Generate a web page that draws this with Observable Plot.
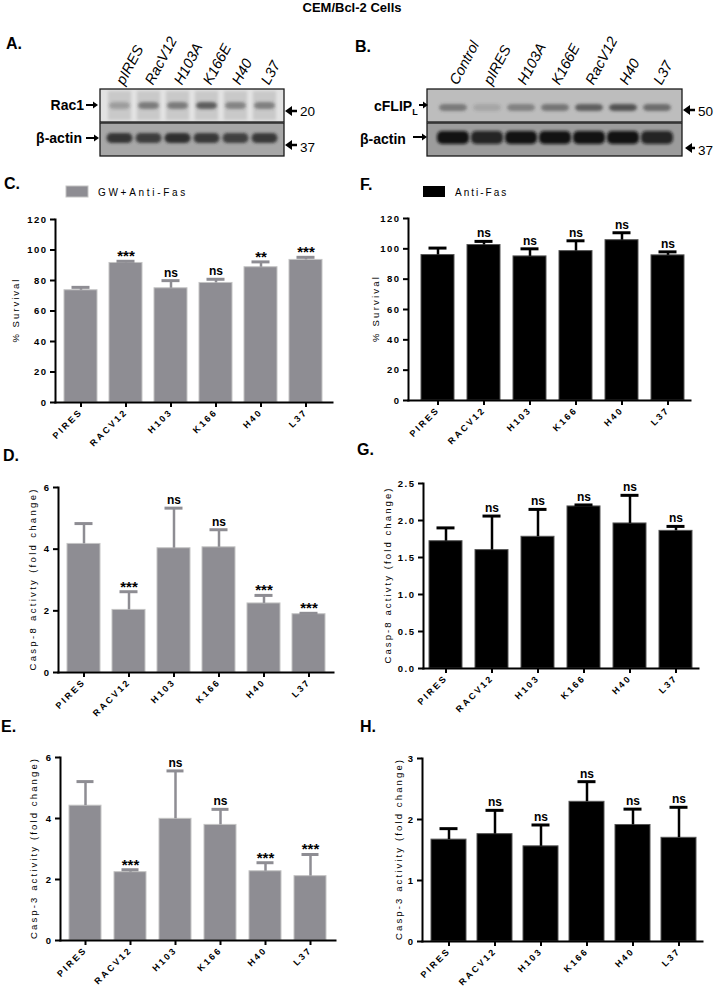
<!DOCTYPE html>
<html><head><meta charset="utf-8">
<script src="https://cdn.jsdelivr.net/npm/d3@7"></script>
<script src="https://cdn.jsdelivr.net/npm/@observablehq/plot@0.6"></script>
<style>
html,body{margin:0;padding:0;background:#fff;}
#fig{position:relative;width:715px;height:994px;overflow:hidden;background:#fff;font-family:Arial,"Liberation Sans",sans-serif;}
</style></head><body><div id="fig"></div>
<script>
const FONT = 'Arial, "Liberation Sans", sans-serif';

// ---------- data ----------
const categories = ["PIRES", "RACV12", "H103", "K166", "H40", "L37"];

// C. % survival, GW + Anti-Fas
const survivalGW = [73.6, 91.5, 74.9, 78.4, 88.7, 93.5];
const survivalGWErr = [1.9, 1.1, 5.0, 2.4, 3.5, 1.7];
const survivalGWSig = ["", "***", "ns", "ns", "**", "***"];
// F. % survival, Anti-Fas
const survivalAF = [95.9, 102.5, 95.0, 98.5, 105.7, 95.7];
const survivalAFErr = [4.6, 2.4, 5.0, 6.8, 4.9, 2.3];
const survivalAFSig = ["", "ns", "ns", "ns", "ns", "ns"];
// D. Casp-8, GW + Anti-Fas
const casp8GW = [4.17, 2.03, 4.03, 4.06, 2.24, 1.89];
const casp8GWErr = [0.66, 0.59, 1.30, 0.57, 0.26, 0.03];
const casp8GWSig = ["", "***", "ns", "ns", "***", "***"];
// G. Casp-8, Anti-Fas
const casp8AF = [1.72, 1.60, 1.78, 2.19, 1.96, 1.86];
const casp8AFErr = [0.18, 0.46, 0.37, 0.02, 0.38, 0.06];
const casp8AFSig = ["", "ns", "ns", "ns", "ns", "ns"];
// E. Casp-3, GW + Anti-Fas
const casp3GW = [4.42, 2.24, 3.99, 3.79, 2.27, 2.11];
const casp3GWErr = [0.79, 0.08, 1.57, 0.51, 0.28, 0.71];
const casp3GWSig = ["", "***", "ns", "ns", "***", "***"];
// H. Casp-3, Anti-Fas
const casp3AF = [1.67, 1.76, 1.56, 2.29, 1.91, 1.70];
const casp3AFErr = [0.18, 0.39, 0.35, 0.33, 0.26, 0.50];
const casp3AFSig = ["", "ns", "ns", "ns", "ns", "ns"];

const survivalTicks = [0, 20, 40, 60, 80, 100, 120];
const casp8GWTicks = [0, 2, 4, 6];
const casp8AFTicks = [0, 0.5, 1.0, 1.5, 2.0, 2.5];
const casp3GWTicks = [0, 2, 4, 6];
const casp3AFTicks = [0, 1, 2, 3];

// Western blots (relative band intensities)
const lanesA = ["pIRES", "RacV12", "H103A", "K166E", "H40", "L37"];
const rowsA = ["Rac1", "β-actin"];
const rac1Band = [0.3, 0.55, 0.55, 0.75, 0.48, 0.5];
const actinBandA = [0.88, 0.82, 0.95, 0.85, 0.8, 0.85];
const lanesB = ["Control", "pIRES", "H103A", "K166E", "RacV12", "H40", "L37"];
const rowsB = ["cFLIP", "β-actin"];
const cflipBand = [0.5, 0.18, 0.45, 0.55, 0.72, 0.8, 0.62];
const actinBandB = [0.97, 0.85, 0.97, 0.97, 0.97, 0.97, 0.85];

const GREY = "#8e8d93";
const fig = document.getElementById("fig");

function place(svg, left, top) {
  svg.style.position = "absolute";
  svg.style.left = left + "px";
  svg.style.top = top + "px";
  svg.style.maxWidth = "none";
  fig.appendChild(svg);
}

function barPanel(cfg) {
  const data = categories.map((c, i) => ({cat: c, v: cfg.values[i], hi: cfg.values[i] + cfg.errors[i], sig: cfg.sig[i]}));
  const mT = cfg.yTop - cfg.top;
  const height = mT + (cfg.y0 - cfg.yTop) + cfg.mB;
  const width = cfg.xEnd - cfg.left + 5;
  const bw = cfg.bw;
  const step = (cfg.lastC - cfg.firstC) / 5;
  const capInset = (bw - 18) / 2;
  const svg = Plot.plot({
    width, height,
    marginTop: mT, marginBottom: cfg.mB, marginLeft: cfg.axisX - cfg.left, marginRight: 5,
    style: {fontFamily: FONT, background: "transparent", overflow: "visible", color: "#000"},
    x: {type: "band", domain: categories, range: [cfg.firstC - cfg.left - bw / 2, cfg.lastC - cfg.left + bw / 2], paddingInner: 1 - bw / step, paddingOuter: 0, align: 0.5},
    y: {domain: cfg.domain},
    marks: [
      Plot.barY(data, {x: "cat", y: "v", fill: cfg.color, stroke: cfg.edge, strokeWidth: 1}),
      Plot.ruleX(data, {x: "cat", y1: "v", y2: "hi", stroke: cfg.color, strokeWidth: 2.5}),
      Plot.tickY(data, {x: "cat", y: "hi", stroke: cfg.color, strokeWidth: 3, insetLeft: capInset, insetRight: capInset}),
      Plot.text(data.filter(d => !d.sig.includes("*")), {x: "cat", y: "hi", text: "sig", dy: -4, lineAnchor: "bottom", fontWeight: "bold", fontSize: 12, fill: "#000"}),
      Plot.text(data.filter(d => d.sig.includes("*")), {x: "cat", y: "hi", text: "sig", dy: 0, lineAnchor: "bottom", fontWeight: "bold", fontSize: 15, fill: "#000"}),
      Plot.frame({anchor: "left", strokeWidth: 2, stroke: "#000"}),
      Plot.frame({anchor: "bottom", strokeWidth: 2, stroke: "#000"}),
      Plot.axisY({ticks: cfg.ticks, tickFormat: cfg.fmt, tickSize: 5, tickPadding: 3, strokeWidth: 2, fontWeight: "bold", fontSize: 9.5, label: null}),
      Plot.axisX({tickSize: 5, tickPadding: 3, tickRotate: -45, strokeWidth: 2, fontWeight: "bold", fontSize: 9, label: null}),
      Plot.text([cfg.ylabel], {frameAnchor: "left", rotate: -90, dx: cfg.labelDx, fontSize: 9.5, fill: "#000", ariaDescription: "ylabel"})
    ]
  });
  const s = d3.select(svg);
  s.selectAll('g[aria-label="y-axis tick label"] text').style("letter-spacing", "1.5px");
  s.selectAll('g[aria-label="x-axis tick label"] text').style("letter-spacing", "2.2px");
  s.selectAll('g[aria-description="ylabel"] text')
    .attr("text-anchor", "start").attr("x", -cfg.labelLen / 2)
    .attr("textLength", cfg.labelLen).attr("lengthAdjust", "spacing");
  place(svg, cfg.left, cfg.top);
}

let blurId = 0;
function blotPanel(cfg) {
  const topBands = cfg.lanes.map((lane, i) => ({lane, row: cfg.rows[0], v: cfg.topVals[i]}));
  const botBands = cfg.lanes.map((lane, i) => ({lane, row: cfg.rows[1], v: cfg.botVals[i]}));
  const marks = [
    Plot.cell([cfg.rows[0]], {y: d => d, fill: cfg.bg[0]}),
    Plot.cell([cfg.rows[1]], {y: d => d, fill: cfg.bg[1]})
  ];
  if (cfg.smear) marks.push(Plot.cell(topBands, {x: "lane", y: "row", fill: cfg.smear, insetLeft: 3, insetRight: 3, insetTop: 2, insetBottom: 2, ariaDescription: "blur"}));
  marks.push(
    Plot.cell(topBands, {x: "lane", y: "row", fill: cfg.bandColor[0], fillOpacity: "v", insetLeft: cfg.sideInset[0], insetRight: cfg.sideInset[0], insetTop: cfg.inset[0][0], insetBottom: cfg.inset[0][1], rx: 5, ariaDescription: "blur"}),
    Plot.cell(botBands, {x: "lane", y: "row", fill: cfg.bandColor[1], fillOpacity: "v", insetLeft: cfg.sideInset[1], insetRight: cfg.sideInset[1], insetTop: cfg.inset[1][0], insetBottom: cfg.inset[1][1], rx: 5, ariaDescription: "blur"}),
    Plot.cell(cfg.rows, {y: d => d, fill: "none", stroke: "#1a1a1a", strokeWidth: 1.3}),
    Plot.axisX({anchor: "top", tickSize: 0, tickPadding: 5, tickRotate: -62, fontSize: 14.5, fontStyle: "italic", label: null})
  );
  const svg = Plot.plot({
    width: cfg.width, height: cfg.height,
    marginLeft: cfg.box[0] - cfg.left, marginRight: cfg.left + cfg.width - cfg.box[1],
    marginTop: cfg.box[2], marginBottom: cfg.height - cfg.box[3],
    style: {fontFamily: FONT, background: "transparent", overflow: "visible", color: "#000"},
    x: {type: "band", domain: cfg.lanes, paddingInner: 0, paddingOuter: cfg.po},
    y: {type: "band", domain: cfg.rows, paddingInner: 0.03, paddingOuter: 0, axis: null},
    marks
  });
  const s = d3.select(svg);
  const id = "blur" + (blurId++);
  s.insert("defs", ":first-child").append("filter").attr("id", id)
    .attr("x", "-10%").attr("y", "-50%").attr("width", "120%").attr("height", "200%")
    .append("feGaussianBlur").attr("stdDeviation", 1.8);
  s.selectAll('g[aria-description="blur"]').attr("filter", `url(#${id})`);
  place(svg, cfg.left, 0);
}

// ---------- blots ----------
blotPanel({lanes: lanesA, rows: rowsA, topVals: rac1Band, botVals: actinBandA,
  left: 0, width: 300, height: 160, box: [100, 284, 88, 156], po: 0.1,
  bg: ["#e2e2e2", "#a7a7a7"], smear: "#c9c9c9", bandColor: ["#3a3a3a", "#262626"],
  sideInset: [4, 1.5], inset: [[13, 13], [10, 13]]});
blotPanel({lanes: lanesB, rows: rowsB, topVals: cflipBand, botVals: actinBandB,
  left: 340, width: 350, height: 160, box: [427, 682, 88, 156], po: 0.23,
  bg: ["#bdbdbd", "#9c9c9c"], smear: null, bandColor: ["#3a3a3a", "#111"],
  sideInset: [3, 1], inset: [[15, 11], [8, 12]]});

// ---------- bar panels ----------
barPanel({values: survivalGW, errors: survivalGWErr, sig: survivalGWSig, color: GREY, edge: "#c4c4c4",
  left: 0, top: 189, axisX: 55, yTop: 219, y0: 402, xEnd: 332, mB: 48, firstC: 79, lastC: 307, bw: 33,
  domain: [0, 120], ticks: survivalTicks, fmt: d => d, ylabel: "% Survival", labelDx: -40, labelLen: 63});
barPanel({values: survivalAF, errors: survivalAFErr, sig: survivalAFSig, color: "#000", edge: "#555",
  left: 350, top: 188, axisX: 408, yTop: 218, y0: 400, xEnd: 690, mB: 48, firstC: 437, lastC: 667, bw: 33,
  domain: [0, 120], ticks: survivalTicks, fmt: d => d, ylabel: "% Survival", labelDx: -33, labelLen: 65});
barPanel({values: casp8GW, errors: casp8GWErr, sig: casp8GWSig, color: GREY, edge: "#c4c4c4",
  left: 0, top: 457, axisX: 58, yTop: 487, y0: 672, xEnd: 333, mB: 48, firstC: 81.7, lastC: 310, bw: 33,
  domain: [0, 6], ticks: casp8GWTicks, fmt: d => d, ylabel: "Casp-8 activty (fold change)", labelDx: -26, labelLen: 181});
barPanel({values: casp8AF, errors: casp8AFErr, sig: casp8AFSig, color: "#000", edge: "#555",
  left: 350, top: 453, axisX: 423, yTop: 483, y0: 668, xEnd: 698, mB: 48, firstC: 445.5, lastC: 675.5, bw: 33,
  domain: [0, 2.5], ticks: casp8AFTicks, fmt: d3.format(".1f"), ylabel: "Casp-8 activty (fold change)", labelDx: -36, labelLen: 175});
barPanel({values: casp3GW, errors: casp3GWErr, sig: casp3GWSig, color: GREY, edge: "#c4c4c4",
  left: 0, top: 727, axisX: 60, yTop: 757, y0: 940, xEnd: 335, mB: 54, firstC: 83, lastC: 312.5, bw: 33,
  domain: [0, 6], ticks: casp3GWTicks, fmt: d => d, ylabel: "Casp-3 activity (fold change)", labelDx: -27, labelLen: 180});
barPanel({values: casp3AF, errors: casp3AFErr, sig: casp3AFSig, color: "#000", edge: "#555",
  left: 350, top: 728, axisX: 422, yTop: 758, y0: 941, xEnd: 702, mB: 53, firstC: 448, lastC: 679, bw: 35,
  domain: [0, 3], ticks: casp3AFTicks, fmt: d => d, ylabel: "Casp-3 activity (fold change)", labelDx: -24, labelLen: 180});

// ---------- overlay: titles, panel letters, blot labels, legends ----------
const ov = d3.select(fig).append("svg").attr("width", 715).attr("height", 994)
  .style("position", "absolute").style("left", "0px").style("top", "0px")
  .style("pointer-events", "none").style("font-family", FONT);

ov.append("text").attr("x", 352).attr("y", 12).attr("text-anchor", "middle")
  .attr("font-weight", "bold").attr("font-size", 13).text("CEM/Bcl-2 Cells");

const letters = [["A.", 6, 49], ["B.", 355, 52], ["C.", 4, 189], ["F.", 360, 190],
  ["D.", 3, 461], ["G.", 357, 455], ["E.", 1, 732], ["H.", 360, 732]];
letters.forEach(([t, x, y]) => ov.append("text").attr("x", x).attr("y", y)
  .attr("font-weight", "bold").attr("font-size", 16).text(t));

function arrowR(x1, x2, y, hl, hh, sw) {
  ov.append("line").attr("x1", x1).attr("x2", x2 - hl + 1).attr("y1", y).attr("y2", y)
    .attr("stroke", "#000").attr("stroke-width", sw);
  ov.append("path").attr("d", `M${x2},${y}L${x2 - hl},${y - hh}L${x2 - hl},${y + hh}Z`).attr("fill", "#000");
}
function arrowL(x1, x2, y, hl, hh, sw) { // head at x1
  ov.append("line").attr("x1", x1 + hl - 1).attr("x2", x2).attr("y1", y).attr("y2", y)
    .attr("stroke", "#000").attr("stroke-width", sw);
  ov.append("path").attr("d", `M${x1},${y}L${x1 + hl},${y - hh}L${x1 + hl},${y + hh}Z`).attr("fill", "#000");
}
function label(t, x, y, opts = {}) {
  return ov.append("text").attr("x", x).attr("y", y)
    .attr("text-anchor", opts.anchor || "start")
    .attr("font-weight", opts.weight || "normal")
    .attr("font-size", opts.size || 13.5).text(t);
}
// Blot A
label("Rac1", 84, 110, {anchor: "end", weight: "bold", size: 14});
arrowR(86, 98, 105, 5, 3.5, 2);
label("β-actin", 82, 143, {anchor: "end", weight: "bold", size: 14});
arrowR(86, 99, 138, 5, 3.5, 2);
arrowL(285, 297, 111, 7, 5, 2.5);
label("20", 300, 116);
arrowL(285, 297, 145, 7, 5, 2.5);
label("37", 300, 152);
// Blot B
const cf = ov.append("text").attr("x", 374).attr("y", 111).attr("font-weight", "bold").attr("font-size", 14);
cf.append("tspan").text("cFLIP");
cf.append("tspan").attr("font-size", 9).attr("dy", 4).text("L");
arrowR(419, 428, 105, 5, 3.5, 2);
label("β-actin", 360, 144, {weight: "bold", size: 14});
arrowR(413, 427, 137, 5, 3.5, 2);
arrowL(683, 695, 110, 7, 5, 2.5);
label("50", 698, 116);
arrowL(685, 695, 148, 7, 5, 2.5);
label("37", 698, 155);

// Legends
ov.append("rect").attr("x", 66).attr("y", 186).attr("width", 22).attr("height", 11)
  .attr("fill", GREY).attr("stroke", "#c4c4c4");
ov.append("text").attr("x", 98).attr("y", 196).attr("font-size", 10)
  .style("letter-spacing", "2.7px").text("GW+Anti-Fas");
ov.append("rect").attr("x", 423).attr("y", 186).attr("width", 22).attr("height", 11).attr("fill", "#000");
ov.append("text").attr("x", 455).attr("y", 196).attr("font-size", 10)
  .style("letter-spacing", "2px").text("Anti-Fas");
</script></body></html>
